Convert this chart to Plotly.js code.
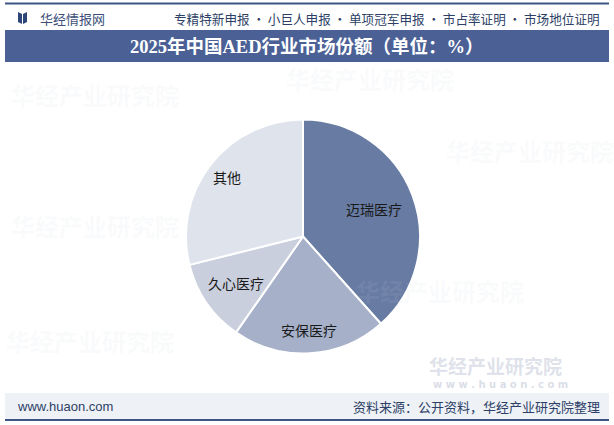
<!DOCTYPE html>
<html><head><meta charset="utf-8">
<script src="https://cdn.plot.ly/plotly-3.0.1.min.js"></script>
<style>html,body{margin:0;padding:0;background:#fff;}#c{width:614px;height:425px;}</style>
</head><body><div id="c"></div>
<script>
const labels = ['迈瑞医疗','安保医疗','久心医疗','其他'];
const shares = [38.4, 21.3, 11.4, 28.9];
const colors = ['#687ca3','#a6b1c9','#c9cfdd','#dfe3ec'];
const labelRadius = [0.65, 0.80, 0.70, 0.82];

const W = 614, H = 425;
const cx = 303, cy = 236.5, r = 117;
const px = x => x / W, py = y => 1 - y / H;

const cjk = '"Noto Sans CJK SC", sans-serif';
const shapes = [
  {type:'line', xref:'paper', yref:'paper', x0:px(5), x1:px(609), y0:py(3.5), y1:py(3.5), line:{color:'#3d5585', width:2}, layer:'below'},
  {type:'rect', xref:'paper', yref:'paper', x0:px(5), x1:px(609), y0:py(30), y1:py(62), fillcolor:'#4b6196', line:{width:0}, layer:'below'},
  {type:'rect', xref:'paper', yref:'paper', x0:px(5), x1:px(609), y0:py(393), y1:py(419), fillcolor:'#eef1f6', line:{width:0}, layer:'below'},
  {type:'line', xref:'paper', yref:'paper', x0:px(5), x1:px(609), y0:py(420), y1:py(420), line:{color:'#3d5585', width:2}, layer:'below'},
  {type:'path', xref:'paper', yref:'paper', path:`M ${px(18)} ${py(12)} L ${px(22)} ${py(14)} L ${px(22)} ${py(24)} L ${px(18)} ${py(22)} Z`, fillcolor:'#2d4677', line:{width:0}},
  {type:'path', xref:'paper', yref:'paper', path:`M ${px(27)} ${py(12)} L ${px(23)} ${py(14)} L ${px(23)} ${py(24)} L ${px(27)} ${py(22)} Z`, fillcolor:'#2d4677', line:{width:0}}
];

const base = {xref:'paper', yref:'paper', showarrow:false, xanchor:'center', yanchor:'middle'};
const wm = [];
const wmPos = [[95,95],[370,78],[95,225],[530,150],[90,340],[440,290]];
wmPos.forEach(p => wm.push(Object.assign({}, base, {x:px(p[0]), y:py(p[1]), text:'<b>华经产业研究院</b>',
  font:{family:cjk, size:24, color:'rgba(200,208,222,0.10)'}})));
wm.push(Object.assign({}, base, {x:px(495), y:py(365), text:'<b>华经产业研究院</b>', font:{family:cjk, size:19, color:'rgba(170,180,200,0.40)'}}));
wm.push(Object.assign({}, base, {x:px(500), y:py(384), text:'<b>w w w . h u a o n . c o m</b>', font:{family:'DejaVu Sans', size:10, color:'rgba(170,180,200,0.45)'}}));

const total = shares.reduce((a,b)=>a+b,0);
let acc = 0;
const sliceLabels = labels.map((lab,i) => {
  const mid = (acc + shares[i]/2) / total * 2 * Math.PI; acc += shares[i];
  const d = r * labelRadius[i];
  return Object.assign({}, base, {x:px(cx + d*Math.sin(mid)), y:py(cy - d*Math.cos(mid)), text:lab,
    font:{family:cjk, size:14, color:'#1a1a1a'}});
});

const ann = wm.concat(sliceLabels, [
  Object.assign({}, base, {x:px(38), y:py(18), xanchor:'left', text:'华经情报网', font:{family:cjk, size:13, color:'#3d4f7a'}}),
  Object.assign({}, base, {x:px(602), y:py(18), xanchor:'right', text:'专精特新申报 · 小巨人申报 · 单项冠军申报 · 市占率证明 · 市场地位证明', font:{family:cjk, size:12.6, color:'#2d3f66'}}),
  Object.assign({}, base, {x:px(307), y:py(46.5), text:'<b>2025年中国AED行业市场份额（单位：%）</b>', font:{family:'"Liberation Serif", "Noto Sans CJK SC", serif', size:18.5, color:'#ffffff'}}),
  Object.assign({}, base, {x:px(15), y:py(406.5), xanchor:'left', text:'www.huaon.com', font:{family:'"Liberation Sans", Arial, sans-serif', size:13, color:'#2d3f66'}}),
  Object.assign({}, base, {x:px(602), y:py(406.5), xanchor:'right', text:'资料来源：公开资料，华经产业研究院整理', font:{family:cjk, size:13, color:'#2d3f66'}})
]);

const trace = {
  type:'pie', labels:labels, values:shares, sort:false, direction:'clockwise', rotation:0,
  marker:{colors:colors, line:{color:'#ffffff', width:2}},
  textinfo:'none', hoverinfo:'label+percent',
  domain:{x:[px(cx-r), px(cx+r)], y:[py(cy+r), py(cy-r)]}
};

Plotly.newPlot('c', [trace], {
  width:W, height:H, margin:{l:0,r:0,t:0,b:0}, showlegend:false,
  paper_bgcolor:'#ffffff', shapes:shapes, annotations:ann
}, {displayModeBar:false, staticPlot:true});
</script></body></html>
